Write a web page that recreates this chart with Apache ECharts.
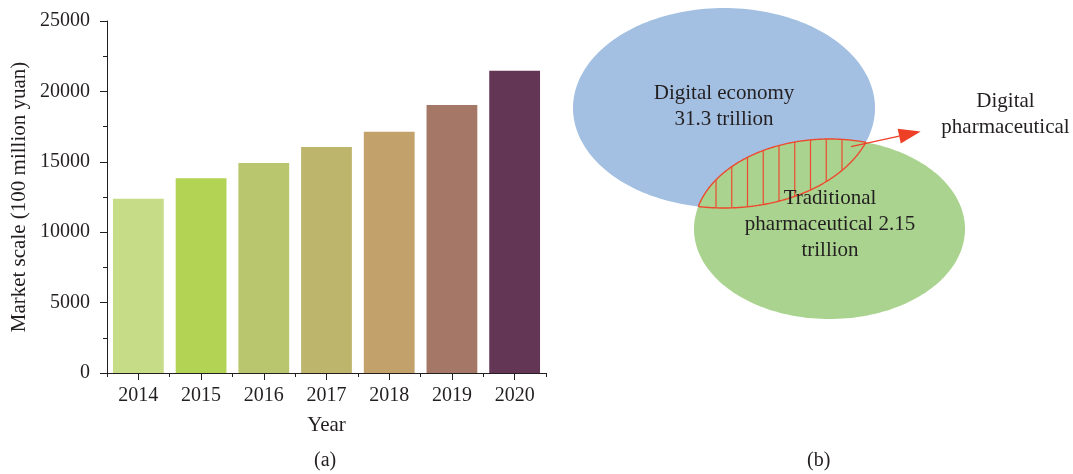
<!DOCTYPE html>
<html style="height: 100%">
<head>
    <meta charset="utf-8">
</head>
<body style="height: 100%; margin: 0">
<div id="container" style="width: 1073px; height: 474px"></div>
<script type="text/javascript" src="https://cdn.jsdelivr.net/npm/echarts@6/dist/echarts.min.js"></script>
<script type="text/javascript">
// (a) market scale by year, 100 million yuan
var years = ['2014', '2015', '2016', '2017', '2018', '2019', '2020'];
var marketScale = [12370, 13840, 14920, 16060, 17130, 19040, 21460];
var barColors = ['#c6dc87', '#b3d355', '#bac66e', '#bdb56c', '#c2a16a', '#a57767', '#643655'];
var yMax = 25000, yStep = 5000;

// (b) venn: sizes in trillion
var vennNames = ['Digital economy', 'Traditional pharmaceutical'];
var vennValues = [31.3, 2.15];
var overlapName = 'Digital pharmaceutical';

var ink = '#231f20';
var serif = '"Liberation Serif", "Times New Roman", serif';

var dom = document.getElementById('container');
var myChart = echarts.init(dom);

// venn layout, in units of the hidden right-hand grid (1 unit = 1px)
var ellipses = [
    {cx: 164, cy: 108, rx: 151, ry: 100, color: '#a3bfe2'},
    {cx: 269.5, cy: 229, rx: 135.5, ry: 90, color: '#a9d38e'}
];

function ellipsePoint(e, t) {
    return [e.cx + e.rx * Math.cos(t), e.cy + e.ry * Math.sin(t)];
}
function inside(e, p) {
    var dx = (p[0] - e.cx) / e.rx, dy = (p[1] - e.cy) / e.ry;
    return dx * dx + dy * dy <= 1;
}

function renderVenn(params, api) {
    var blue = ellipses[0], green = ellipses[1];
    var children = [];
    var i, p;
    ellipses.forEach(function (e) {
        var pts = [];
        for (i = 0; i < 200; i++) pts.push(api.coord(ellipsePoint(e, i / 200 * 2 * Math.PI)));
        children.push({type: 'polygon', shape: {points: pts}, style: {fill: e.color}});
    });

    // overlap: top arc of green inside blue (left->right), then bottom arc of blue inside green (right->left)
    var lens = [];
    for (i = 0; i <= 400; i++) {
        p = ellipsePoint(green, -Math.PI + i / 400 * Math.PI);
        if (inside(blue, p)) lens.push(api.coord(p));
    }
    for (i = 0; i <= 400; i++) {
        p = ellipsePoint(blue, i / 400 * Math.PI);
        if (inside(green, p)) lens.push(api.coord(p));
    }
    children.push({type: 'polygon', shape: {points: lens},
        style: {fill: 'none', stroke: '#ee4a2f', lineWidth: 1.4}});

    // vertical hatching
    for (var x = 156; x < 290; x += 15.75) {
        var gx = (x - green.cx) / green.rx, bx = (x - blue.cx) / blue.rx;
        var yTop = green.cy - green.ry * Math.sqrt(Math.max(0, 1 - gx * gx));
        var yBot = blue.cy + blue.ry * Math.sqrt(Math.max(0, 1 - bx * bx));
        if (yBot - yTop < 1) continue;
        var a = api.coord([x, yTop]), b = api.coord([x, yBot]);
        children.push({type: 'line', shape: {x1: a[0], y1: a[1], x2: b[0], y2: b[1]},
            style: {stroke: '#ee4a2f', lineWidth: 1.2}});
    }

    // arrow to the overlap label
    var s = api.coord([291, 146.6]), tip = api.coord([360.7, 131.5]);
    var dx = tip[0] - s[0], dy = tip[1] - s[1], len = Math.sqrt(dx * dx + dy * dy);
    var ux = dx / len, uy = dy / len, hl = 22, hw = 7.5;
    var base = [tip[0] - ux * hl, tip[1] - uy * hl];
    children.push({type: 'line', shape: {x1: s[0], y1: s[1], x2: base[0], y2: base[1]},
        style: {stroke: '#ee4027', lineWidth: 1.4}});
    children.push({type: 'polygon', shape: {points: [tip,
            [base[0] - uy * hw, base[1] + ux * hw],
            [base[0] + uy * hw, base[1] - ux * hw]]},
        style: {fill: '#ee4027'}});

    var words = overlapName.split(' ');
    var labels = [
        {at: [164, 106.5], text: vennNames[0] + '\n' + vennValues[0] + ' trillion'},
        {at: [270, 224], text: vennNames[1].replace(' ', '\n') + ' ' + vennValues[1] + '\ntrillion'},
        {at: [445.5, 114], text: words[0] + '\n' + words[1]}
    ];
    labels.forEach(function (l) {
        var c = api.coord(l.at);
        children.push({type: 'text', style: {text: l.text, x: c[0], y: c[1],
            align: 'center', verticalAlign: 'middle', fill: ink,
            font: '21px ' + serif, lineHeight: 26}});
    });
    return {type: 'group', children: children};
}

var option = {
    animation: false,
    backgroundColor: '#ffffff',
    grid: [
        {left: 107, right: 527, top: 21, bottom: 101, outerBoundsMode: 'none'},
        {left: 560, top: 0, width: 513, height: 330, outerBoundsMode: 'none'}
    ],
    xAxis: [
        {
            gridIndex: 0, type: 'category', data: years,
            axisLine: {lineStyle: {color: ink, width: 1}},
            axisTick: {show: true, alignWithLabel: true, length: 7, lineStyle: {color: ink, width: 1}},
            axisLabel: {color: ink, fontFamily: serif, fontSize: 20, margin: 13},
            name: 'Year', nameLocation: 'middle', nameGap: 42,
            nameTextStyle: {color: ink, fontFamily: serif, fontSize: 21}
        },
        {
            // small ticks on the category boundaries
            gridIndex: 0, type: 'category', data: years, position: 'bottom',
            axisLine: {show: false},
            axisTick: {show: true, length: 4, lineStyle: {color: ink}},
            axisLabel: {show: false}
        },
        {gridIndex: 1, type: 'value', min: 0, max: 513, show: false}
    ],
    yAxis: [
        {
            gridIndex: 0, type: 'value', min: 0, max: yMax, interval: yStep,
            axisLine: {show: true, lineStyle: {color: ink, width: 1}},
            axisTick: {show: true, length: 7, lineStyle: {color: ink}},
            minorTick: {show: true, splitNumber: 2, length: 4, lineStyle: {color: ink}},
            splitLine: {show: false},
            axisLabel: {color: ink, fontFamily: serif, fontSize: 20, margin: 17,
                formatter: function (v) { return String(v); }},
            name: 'Market scale (100 million yuan)', nameLocation: 'middle', nameGap: 77,
            nameRotate: 90,
            nameTextStyle: {color: ink, fontFamily: serif, fontSize: 21}
        },
        {gridIndex: 1, type: 'value', min: 0, max: 330, inverse: true, show: false}
    ],
    series: [
        {
            type: 'bar', xAxisIndex: 0, yAxisIndex: 0,
            barCategoryGap: '19%',
            data: marketScale.map(function (v, i) {
                return {value: v, itemStyle: {color: barColors[i]}};
            })
        },
        {
            type: 'custom', xAxisIndex: 2, yAxisIndex: 1, clip: false,
            data: [[0, 0]],
            renderItem: renderVenn
        }
    ],
    graphic: [
        {type: 'text', left: 314, top: 451, style: {text: '(a)', fill: ink, font: '20px ' + serif}},
        {type: 'text', left: 807, top: 451, style: {text: '(b)', fill: ink, font: '20px ' + serif}}
    ]
};

if (option && typeof option === 'object') {
    myChart.setOption(option);
}
</script>
</body>
</html>
